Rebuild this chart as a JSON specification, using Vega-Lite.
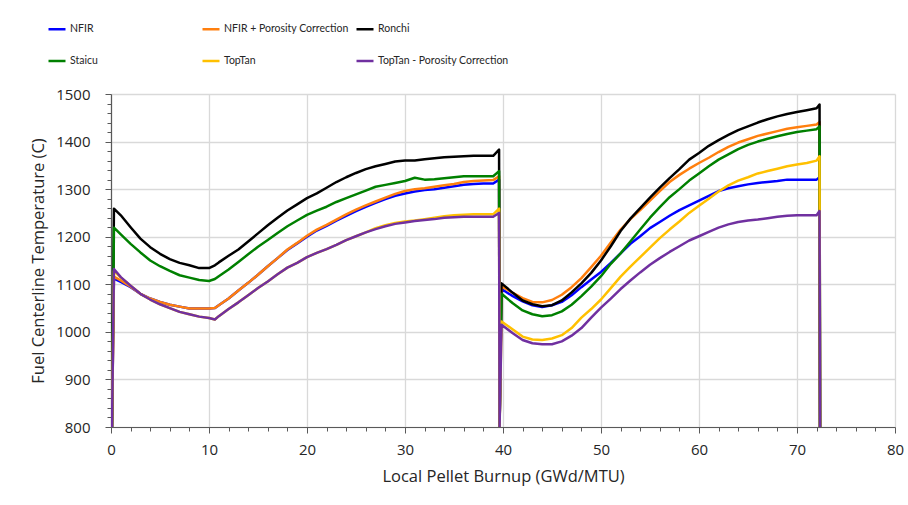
{
  "$schema": "https://vega.github.io/schema/vega-lite/v6.json",
  "autosize": "none",
  "width": 784,
  "height": 333,
  "padding": {"left": 111, "top": 94, "right": 13, "bottom": 78},
  "background": "white",
  "config": {
    "view": {"stroke": null},
    "font": "Open Sans",
    "axis": {"labelFont": "Open Sans", "titleFont": "Open Sans", "labelColor": "#262626", "titleColor": "#262626", "labelFontSize": 15, "titleFontSize": 16.5, "titleFontWeight": "normal", "domainColor": "#595959", "tickColor": "#595959", "domainWidth": 1.2}
  },
  "data": {"values": [
    {"x": 0.1, "NFIR": 800, "NFIR + Porosity Correction": 800, "Ronchi": 800, "Staicu": 800, "TopTan": 800, "TopTan - Porosity Correction": 800},
    {"x": 0.3, "NFIR": 1112, "NFIR + Porosity Correction": 1116, "Ronchi": 1259, "Staicu": 1219, "TopTan": 1128, "TopTan - Porosity Correction": 1132},
    {"x": 1, "NFIR": 1105, "NFIR + Porosity Correction": 1108, "Ronchi": 1245, "Staicu": 1205, "TopTan": 1114, "TopTan - Porosity Correction": 1115},
    {"x": 2, "NFIR": 1094, "NFIR + Porosity Correction": 1095, "Ronchi": 1220, "Staicu": 1185, "TopTan": 1097, "TopTan - Porosity Correction": 1097},
    {"x": 3, "NFIR": 1080, "NFIR + Porosity Correction": 1080, "Ronchi": 1196, "Staicu": 1167, "TopTan": 1080, "TopTan - Porosity Correction": 1080},
    {"x": 4, "NFIR": 1070, "NFIR + Porosity Correction": 1070, "Ronchi": 1178, "Staicu": 1150, "TopTan": 1068, "TopTan - Porosity Correction": 1068},
    {"x": 5, "NFIR": 1063, "NFIR + Porosity Correction": 1063, "Ronchi": 1164, "Staicu": 1138, "TopTan": 1058, "TopTan - Porosity Correction": 1058},
    {"x": 6, "NFIR": 1057, "NFIR + Porosity Correction": 1057, "Ronchi": 1153, "Staicu": 1128, "TopTan": 1050, "TopTan - Porosity Correction": 1050},
    {"x": 7, "NFIR": 1053, "NFIR + Porosity Correction": 1053, "Ronchi": 1145, "Staicu": 1119, "TopTan": 1042, "TopTan - Porosity Correction": 1042},
    {"x": 8, "NFIR": 1049, "NFIR + Porosity Correction": 1049, "Ronchi": 1140, "Staicu": 1114, "TopTan": 1037, "TopTan - Porosity Correction": 1037},
    {"x": 9, "NFIR": 1049, "NFIR + Porosity Correction": 1049, "Ronchi": 1134, "Staicu": 1109, "TopTan": 1032, "TopTan - Porosity Correction": 1032},
    {"x": 10, "NFIR": 1049, "NFIR + Porosity Correction": 1049, "Ronchi": 1134, "Staicu": 1107, "TopTan": 1029, "TopTan - Porosity Correction": 1029},
    {"x": 10.6, "NFIR": 1050, "NFIR + Porosity Correction": 1050, "Ronchi": 1140, "Staicu": 1111, "TopTan": 1026, "TopTan - Porosity Correction": 1026},
    {"x": 11, "NFIR": 1056, "NFIR + Porosity Correction": 1056, "Ronchi": 1146, "Staicu": 1117, "TopTan": 1033, "TopTan - Porosity Correction": 1033},
    {"x": 12, "NFIR": 1070, "NFIR + Porosity Correction": 1070, "Ronchi": 1160, "Staicu": 1131, "TopTan": 1048, "TopTan - Porosity Correction": 1048},
    {"x": 13, "NFIR": 1087, "NFIR + Porosity Correction": 1087, "Ronchi": 1173, "Staicu": 1147, "TopTan": 1062, "TopTan - Porosity Correction": 1062},
    {"x": 14, "NFIR": 1103, "NFIR + Porosity Correction": 1103, "Ronchi": 1190, "Staicu": 1163, "TopTan": 1077, "TopTan - Porosity Correction": 1077},
    {"x": 15, "NFIR": 1120, "NFIR + Porosity Correction": 1120, "Ronchi": 1207, "Staicu": 1179, "TopTan": 1092, "TopTan - Porosity Correction": 1092},
    {"x": 16, "NFIR": 1138, "NFIR + Porosity Correction": 1138, "Ronchi": 1224, "Staicu": 1193, "TopTan": 1106, "TopTan - Porosity Correction": 1106},
    {"x": 17, "NFIR": 1155, "NFIR + Porosity Correction": 1155, "Ronchi": 1240, "Staicu": 1208, "TopTan": 1121, "TopTan - Porosity Correction": 1121},
    {"x": 18, "NFIR": 1172, "NFIR + Porosity Correction": 1173, "Ronchi": 1255, "Staicu": 1222, "TopTan": 1135, "TopTan - Porosity Correction": 1135},
    {"x": 19, "NFIR": 1186, "NFIR + Porosity Correction": 1187, "Ronchi": 1268, "Staicu": 1234, "TopTan": 1145, "TopTan - Porosity Correction": 1145},
    {"x": 20, "NFIR": 1200, "NFIR + Porosity Correction": 1202, "Ronchi": 1281, "Staicu": 1246, "TopTan": 1157, "TopTan - Porosity Correction": 1157},
    {"x": 21, "NFIR": 1213, "NFIR + Porosity Correction": 1215, "Ronchi": 1291, "Staicu": 1255, "TopTan": 1166, "TopTan - Porosity Correction": 1166},
    {"x": 22, "NFIR": 1223, "NFIR + Porosity Correction": 1225, "Ronchi": 1303, "Staicu": 1263, "TopTan": 1174, "TopTan - Porosity Correction": 1174},
    {"x": 23, "NFIR": 1234, "NFIR + Porosity Correction": 1236, "Ronchi": 1315, "Staicu": 1273, "TopTan": 1183, "TopTan - Porosity Correction": 1183},
    {"x": 24, "NFIR": 1244, "NFIR + Porosity Correction": 1247, "Ronchi": 1325, "Staicu": 1281, "TopTan": 1193, "TopTan - Porosity Correction": 1193},
    {"x": 25, "NFIR": 1254, "NFIR + Porosity Correction": 1257, "Ronchi": 1334, "Staicu": 1289, "TopTan": 1201, "TopTan - Porosity Correction": 1201},
    {"x": 26, "NFIR": 1263, "NFIR + Porosity Correction": 1266, "Ronchi": 1342, "Staicu": 1297, "TopTan": 1209, "TopTan - Porosity Correction": 1209},
    {"x": 27, "NFIR": 1271, "NFIR + Porosity Correction": 1274, "Ronchi": 1348, "Staicu": 1305, "TopTan": 1218, "TopTan - Porosity Correction": 1216},
    {"x": 28, "NFIR": 1279, "NFIR + Porosity Correction": 1282, "Ronchi": 1353, "Staicu": 1309, "TopTan": 1224, "TopTan - Porosity Correction": 1222},
    {"x": 29, "NFIR": 1286, "NFIR + Porosity Correction": 1290, "Ronchi": 1358, "Staicu": 1313, "TopTan": 1229, "TopTan - Porosity Correction": 1227},
    {"x": 30, "NFIR": 1291, "NFIR + Porosity Correction": 1296, "Ronchi": 1360, "Staicu": 1317, "TopTan": 1232, "TopTan - Porosity Correction": 1230},
    {"x": 31, "NFIR": 1295, "NFIR + Porosity Correction": 1300, "Ronchi": 1360, "Staicu": 1324, "TopTan": 1234, "TopTan - Porosity Correction": 1233},
    {"x": 32, "NFIR": 1298, "NFIR + Porosity Correction": 1302, "Ronchi": 1363, "Staicu": 1320, "TopTan": 1237, "TopTan - Porosity Correction": 1235},
    {"x": 33, "NFIR": 1300, "NFIR + Porosity Correction": 1305, "Ronchi": 1365, "Staicu": 1321, "TopTan": 1240, "TopTan - Porosity Correction": 1237},
    {"x": 34, "NFIR": 1303, "NFIR + Porosity Correction": 1308, "Ronchi": 1367, "Staicu": 1323, "TopTan": 1243, "TopTan - Porosity Correction": 1240},
    {"x": 35, "NFIR": 1306, "NFIR + Porosity Correction": 1311, "Ronchi": 1368, "Staicu": 1325, "TopTan": 1245, "TopTan - Porosity Correction": 1241},
    {"x": 36, "NFIR": 1309, "NFIR + Porosity Correction": 1315, "Ronchi": 1369, "Staicu": 1327, "TopTan": 1246, "TopTan - Porosity Correction": 1242},
    {"x": 37, "NFIR": 1311, "NFIR + Porosity Correction": 1317, "Ronchi": 1370, "Staicu": 1327, "TopTan": 1247, "TopTan - Porosity Correction": 1242},
    {"x": 38, "NFIR": 1312, "NFIR + Porosity Correction": 1318, "Ronchi": 1370, "Staicu": 1327, "TopTan": 1247, "TopTan - Porosity Correction": 1242},
    {"x": 39, "NFIR": 1312, "NFIR + Porosity Correction": 1319, "Ronchi": 1370, "Staicu": 1327, "TopTan": 1247, "TopTan - Porosity Correction": 1242},
    {"x": 39.6, "NFIR": 1320, "NFIR + Porosity Correction": 1327, "Ronchi": 1383, "Staicu": 1338, "TopTan": 1259, "TopTan - Porosity Correction": 1250},
    {"x": 39.65, "NFIR": 800, "NFIR + Porosity Correction": 800, "Ronchi": 800, "Staicu": 800, "TopTan": 800, "TopTan - Porosity Correction": 800},
    {"x": 39.85, "NFIR": 1090, "NFIR + Porosity Correction": 1096, "Ronchi": 1102, "Staicu": 1080, "TopTan": 1022, "TopTan - Porosity Correction": 1015},
    {"x": 41, "NFIR": 1075, "NFIR + Porosity Correction": 1082, "Ronchi": 1082, "Staicu": 1060, "TopTan": 1005, "TopTan - Porosity Correction": 997},
    {"x": 42, "NFIR": 1064, "NFIR + Porosity Correction": 1071, "Ronchi": 1066, "Staicu": 1045, "TopTan": 990, "TopTan - Porosity Correction": 983},
    {"x": 43, "NFIR": 1056, "NFIR + Porosity Correction": 1063, "Ronchi": 1058, "Staicu": 1037, "TopTan": 984, "TopTan - Porosity Correction": 976},
    {"x": 44, "NFIR": 1052, "NFIR + Porosity Correction": 1062, "Ronchi": 1054, "Staicu": 1033, "TopTan": 983, "TopTan - Porosity Correction": 974},
    {"x": 45, "NFIR": 1056, "NFIR + Porosity Correction": 1067, "Ronchi": 1056, "Staicu": 1035, "TopTan": 986, "TopTan - Porosity Correction": 974},
    {"x": 46, "NFIR": 1063, "NFIR + Porosity Correction": 1078, "Ronchi": 1066, "Staicu": 1043, "TopTan": 993, "TopTan - Porosity Correction": 980},
    {"x": 47, "NFIR": 1077, "NFIR + Porosity Correction": 1094, "Ronchi": 1083, "Staicu": 1057, "TopTan": 1008, "TopTan - Porosity Correction": 992},
    {"x": 48, "NFIR": 1094, "NFIR + Porosity Correction": 1113, "Ronchi": 1102, "Staicu": 1075, "TopTan": 1030, "TopTan - Porosity Correction": 1008},
    {"x": 49, "NFIR": 1110, "NFIR + Porosity Correction": 1136, "Ronchi": 1124, "Staicu": 1095, "TopTan": 1048, "TopTan - Porosity Correction": 1030},
    {"x": 50, "NFIR": 1126, "NFIR + Porosity Correction": 1160, "Ronchi": 1150, "Staicu": 1117, "TopTan": 1068, "TopTan - Porosity Correction": 1051},
    {"x": 51, "NFIR": 1145, "NFIR + Porosity Correction": 1188, "Ronchi": 1180, "Staicu": 1143, "TopTan": 1092, "TopTan - Porosity Correction": 1070},
    {"x": 52, "NFIR": 1165, "NFIR + Porosity Correction": 1215, "Ronchi": 1212, "Staicu": 1165, "TopTan": 1116, "TopTan - Porosity Correction": 1090},
    {"x": 53, "NFIR": 1185, "NFIR + Porosity Correction": 1237, "Ronchi": 1238, "Staicu": 1190, "TopTan": 1137, "TopTan - Porosity Correction": 1108},
    {"x": 54, "NFIR": 1201, "NFIR + Porosity Correction": 1256, "Ronchi": 1260, "Staicu": 1215, "TopTan": 1157, "TopTan - Porosity Correction": 1125},
    {"x": 55, "NFIR": 1218, "NFIR + Porosity Correction": 1276, "Ronchi": 1282, "Staicu": 1240, "TopTan": 1177, "TopTan - Porosity Correction": 1141},
    {"x": 56, "NFIR": 1231, "NFIR + Porosity Correction": 1296, "Ronchi": 1303, "Staicu": 1262, "TopTan": 1197, "TopTan - Porosity Correction": 1155},
    {"x": 57, "NFIR": 1244, "NFIR + Porosity Correction": 1315, "Ronchi": 1323, "Staicu": 1283, "TopTan": 1215, "TopTan - Porosity Correction": 1168},
    {"x": 58, "NFIR": 1256, "NFIR + Porosity Correction": 1330, "Ronchi": 1342, "Staicu": 1300, "TopTan": 1232, "TopTan - Porosity Correction": 1180},
    {"x": 59, "NFIR": 1266, "NFIR + Porosity Correction": 1343, "Ronchi": 1362, "Staicu": 1318, "TopTan": 1250, "TopTan - Porosity Correction": 1192},
    {"x": 60, "NFIR": 1276, "NFIR + Porosity Correction": 1355, "Ronchi": 1376, "Staicu": 1333, "TopTan": 1265, "TopTan - Porosity Correction": 1201},
    {"x": 61, "NFIR": 1286, "NFIR + Porosity Correction": 1366, "Ronchi": 1391, "Staicu": 1348, "TopTan": 1280, "TopTan - Porosity Correction": 1210},
    {"x": 62, "NFIR": 1296, "NFIR + Porosity Correction": 1378, "Ronchi": 1403, "Staicu": 1362, "TopTan": 1295, "TopTan - Porosity Correction": 1219},
    {"x": 63, "NFIR": 1302, "NFIR + Porosity Correction": 1389, "Ronchi": 1414, "Staicu": 1373, "TopTan": 1308, "TopTan - Porosity Correction": 1226},
    {"x": 64, "NFIR": 1306, "NFIR + Porosity Correction": 1398, "Ronchi": 1424, "Staicu": 1384, "TopTan": 1318, "TopTan - Porosity Correction": 1231},
    {"x": 65, "NFIR": 1310, "NFIR + Porosity Correction": 1405, "Ronchi": 1432, "Staicu": 1393, "TopTan": 1325, "TopTan - Porosity Correction": 1234},
    {"x": 66, "NFIR": 1313, "NFIR + Porosity Correction": 1412, "Ronchi": 1440, "Staicu": 1400, "TopTan": 1333, "TopTan - Porosity Correction": 1236},
    {"x": 67, "NFIR": 1315, "NFIR + Porosity Correction": 1417, "Ronchi": 1447, "Staicu": 1406, "TopTan": 1338, "TopTan - Porosity Correction": 1239},
    {"x": 68, "NFIR": 1317, "NFIR + Porosity Correction": 1422, "Ronchi": 1453, "Staicu": 1411, "TopTan": 1343, "TopTan - Porosity Correction": 1242},
    {"x": 69, "NFIR": 1320, "NFIR + Porosity Correction": 1427, "Ronchi": 1458, "Staicu": 1416, "TopTan": 1348, "TopTan - Porosity Correction": 1244},
    {"x": 70, "NFIR": 1320, "NFIR + Porosity Correction": 1430, "Ronchi": 1462, "Staicu": 1420, "TopTan": 1352, "TopTan - Porosity Correction": 1245},
    {"x": 71, "NFIR": 1320, "NFIR + Porosity Correction": 1433, "Ronchi": 1466, "Staicu": 1423, "TopTan": 1355, "TopTan - Porosity Correction": 1245},
    {"x": 72, "NFIR": 1320, "NFIR + Porosity Correction": 1436, "Ronchi": 1470, "Staicu": 1426, "TopTan": 1360, "TopTan - Porosity Correction": 1245},
    {"x": 72.3, "NFIR": 1325, "NFIR + Porosity Correction": 1441, "Ronchi": 1478, "Staicu": 1432, "TopTan": 1369, "TopTan - Porosity Correction": 1254},
    {"x": 72.35, "NFIR": 800, "NFIR + Porosity Correction": 800, "Ronchi": 800, "Staicu": 800, "TopTan": 800, "TopTan - Porosity Correction": 800}
  ]},
  "transform": [
    {"fold": ["NFIR", "NFIR + Porosity Correction", "Ronchi", "Staicu", "TopTan", "TopTan - Porosity Correction"], "as": ["series", "T"]}
  ],
  "mark": {"type": "line", "strokeWidth": 2.5, "clip": true, "strokeJoin": "round"},
  "encoding": {
    "x": {
      "field": "x", "type": "quantitative",
      "scale": {"domain": [0, 80], "nice": false, "zero": false},
      "axis": {
        "title": "Local Pellet Burnup (GWd/MTU)",
        "values": [0,2,4,6,8,10,12,14,16,18,20,22,24,26,28,30,32,34,36,38,40,42,44,46,48,50,52,54,56,58,60,62,64,66,68,70,72,74,76,78,80],
        "labelExpr": "datum.value % 10 === 0 ? datum.label : ''",
        "gridColor": {"condition": {"test": "datum.value % 10 === 0", "value": "#d9d9d9"}, "value": "transparent"},
        "gridWidth": 1.3,
        "tickSize": {"condition": {"test": "datum.value % 10 === 0", "value": 6}, "value": 4},
        "labelPadding": 9,
        "titlePadding": 11,
        "labelFlush": false
      }
    },
    "y": {
      "field": "T", "type": "quantitative",
      "scale": {"domain": [800, 1500], "nice": false, "zero": false},
      "axis": {
        "title": "Fuel Centerline Temperature (C)",
        "values": [800,820,840,860,880,900,920,940,960,980,1000,1020,1040,1060,1080,1100,1120,1140,1160,1180,1200,1220,1240,1260,1280,1300,1320,1340,1360,1380,1400,1420,1440,1460,1480,1500],
        "labelExpr": "datum.value % 100 === 0 ? datum.label : ''",
        "format": "d",
        "gridColor": {"condition": {"test": "datum.value % 100 === 0", "value": "#d9d9d9"}, "value": "transparent"},
        "gridWidth": 1.3,
        "tickSize": {"condition": {"test": "datum.value % 100 === 0", "value": 6}, "value": 4},
        "labelPadding": 15,
        "titlePadding": 9,
        "labelFlush": false
      }
    },
    "color": {
      "field": "series", "type": "nominal",
      "scale": {"domain": ["NFIR", "NFIR + Porosity Correction", "Ronchi", "Staicu", "TopTan", "TopTan - Porosity Correction"], "range": ["#0000ff", "#ff7f0e", "#000000", "#008000", "#ffc000", "#7030a0"]},
      "legend": {
        "title": null, "orient": "none", "legendX": -64, "legendY": -75, "direction": "horizontal", "columns": 3,
        "gridAlign": "all", "columnPadding": -55, "rowPadding": 16,
        "symbolType": "stroke", "symbolSize": 289, "symbolStrokeWidth": 2.5,
        "labelFont": "Lato", "labelFontSize": 10.5, "labelColor": "#262626", "labelOffset": 3, "labelLimit": 300, "padding": 0
      }
    }
  }
}
